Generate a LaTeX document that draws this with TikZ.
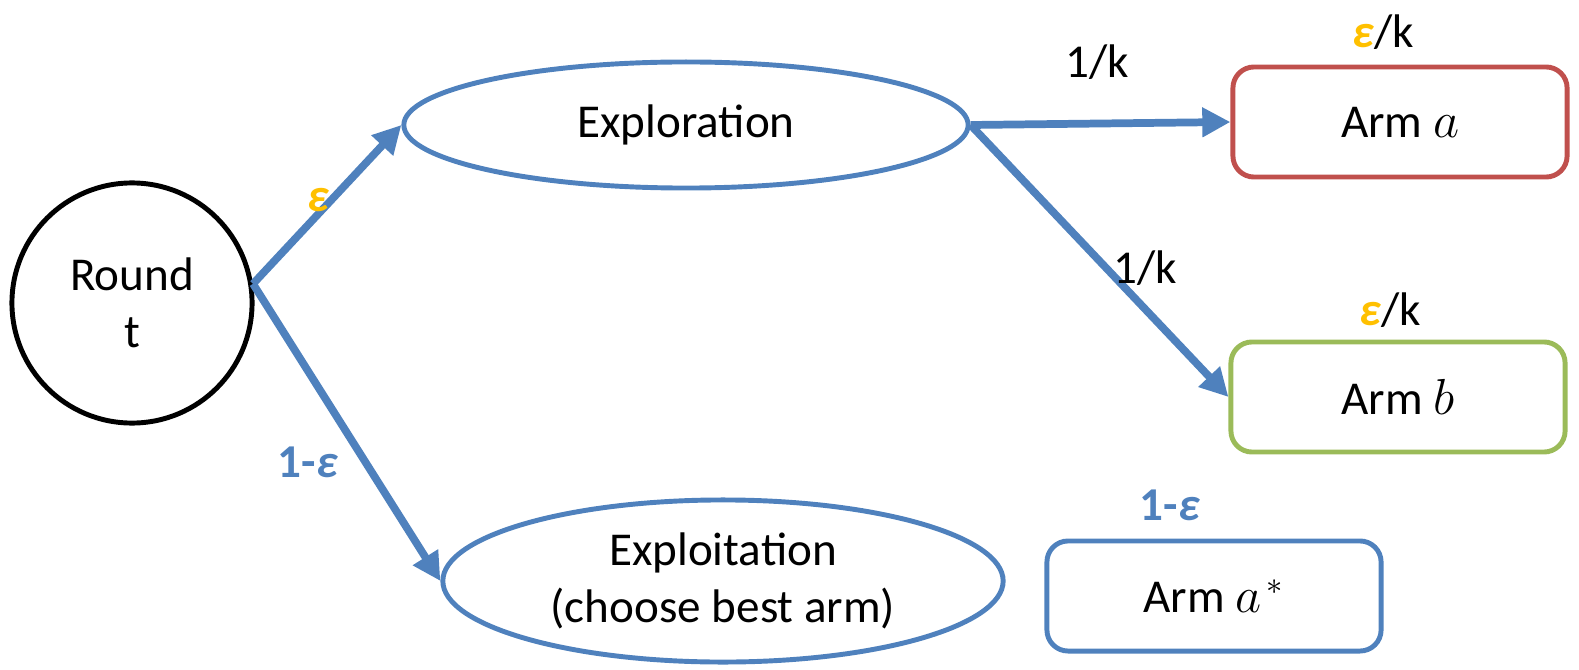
\documentclass[tikz,border=0pt]{standalone}
\usepackage{amsmath}
\usepackage{fontspec}
\setmainfont{Carlito}
\usepackage{tikz}
\usetikzlibrary{positioning,arrows.meta,shapes.geometric}
\definecolor{FlowBlue}{HTML}{4F81BD}
\definecolor{ArmRed}{HTML}{C0504D}
\definecolor{ArmGreen}{HTML}{9BBB59}
\definecolor{EpsOrange}{HTML}{FFC000}
\newcommand{\eps}{\textbf{\textit{ε}}}

\tikzset{
  stagenode/.style={draw=FlowBlue, line width=1.4pt, ellipse, inner sep=0pt, align=center},
  armbox/.style={draw=#1, line width=1.4pt, rounded corners=6pt,
                 minimum width=3.34cm, minimum height=1.1cm},
  flow/.style={draw=FlowBlue, line width=2.2pt,
               -{Triangle[length=8pt,width=8pt]}},
  problabel/.style={inner sep=0pt}
}

\begin{document}
\begin{tikzpicture}[x=0.01cm, y=-0.01cm,
    every node/.style={font=\fontsize{13.4}{16.2}\selectfont}]
  \useasboundingbox (0,0) rectangle (1579,670);

  % start of a round
  \node[draw=black, line width=1.4pt, circle, minimum size=2.4cm, inner sep=0pt,
        align=center] (round) at (132,303) {Round\\t};

  % the two branches
  \node[stagenode, minimum width=5.64cm, minimum height=1.26cm]
        (explore) at (686,125) {Exploration};
  \node[stagenode, minimum width=5.6cm, minimum height=1.62cm]
        (exploit) at (723,581) {Exploitation\\(choose best arm)};

  % arms
  \node[armbox=ArmRed]   (arma)  at (1400,122) {Arm $a$};
  \node[armbox=ArmGreen] (armb)  at (1398,397) {Arm $b$};
  \node[armbox=FlowBlue] (armst) at (1214,596) {Arm $a^{\,*}$};

  \draw[flow] (round.9) -- (explore.west);
  \draw[flow] (round.9) -- (exploit.west);
  \draw[flow] (explore.east) -- (arma.west);
  \draw[flow] (explore.east) -- (armb.west);

  % probabilities
  \node[problabel, text=EpsOrange] (epsup) at (318,200) {\eps};
  \node[problabel, text=FlowBlue] (epsdown) at (308,462) {\textbf{1-}\eps};
  \node[problabel] (ktop) at (1097,62) {1/k};
  \node[problabel] (kmid) at (1145,268) {1/k};
  \node[problabel] (epsa) at (1383,32) {\textcolor{EpsOrange}{\eps}/k};
  \node[problabel] (epsb) at (1390,310) {\textcolor{EpsOrange}{\eps}/k};
  \node[problabel, text=FlowBlue] (epsst) at (1170,505) {\textbf{1-}\eps};
\end{tikzpicture}
\end{document}
